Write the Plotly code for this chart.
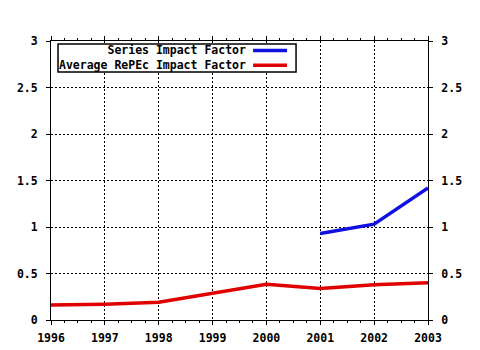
import plotly.graph_objects as go

# Yearly impact factors
years = [1996, 1997, 1998, 1999, 2000, 2001, 2002, 2003]
series_years = [2001, 2002, 2003]
series_impact = [0.93, 1.03, 1.42]
repec_average = [0.16, 0.17, 0.19, 0.29, 0.385, 0.34, 0.38, 0.40]

y_ticks = [0, 0.5, 1, 1.5, 2, 2.5, 3]
y_labels = ["0", "0.5", "1", "1.5", "2", "2.5", "3"]

series_names = ["Series Impact Factor", "Average RePEc Impact Factor"]
series_colors = ["#1010e0", "#e00000"]

FONT = dict(family="DejaVu Sans Mono", size=11.5, color="black", weight="bold")

fig = go.Figure()
fig.add_trace(go.Scatter(x=series_years, y=series_impact, mode="lines",
                         line=dict(color=series_colors[0], width=3.5),
                         name=series_names[0], showlegend=False))
fig.add_trace(go.Scatter(x=years, y=repec_average, mode="lines",
                         line=dict(color=series_colors[1], width=3.5),
                         name=series_names[1], showlegend=False))
# Transparent copy on the right-hand axis so its labels are drawn
fig.add_trace(go.Scatter(x=years, y=repec_average, yaxis="y2", mode="lines",
                         line=dict(color="rgba(0,0,0,0)", width=0),
                         hoverinfo="skip", showlegend=False))

axis_common = dict(showline=True, linecolor="black", linewidth=1,
                   ticks="outside", ticklen=4, tickcolor="black",
                   tickfont=FONT, zeroline=False, automargin=False)

fig.update_layout(
    width=480, height=350,
    margin=dict(l=51, r=52, t=41, b=30),
    paper_bgcolor="white", plot_bgcolor="white",
    xaxis=dict(axis_common, range=[1996, 2003], tickvals=years,
               ticktext=[str(y) for y in years], mirror="ticks",
               ticklabelstandoff=3,
               showgrid=True, gridcolor="black", griddash="2px,2px", gridwidth=1,
               minor=dict(ticks="outside", ticklen=2, dtick=0.25,
                          tickcolor="black", showgrid=False)),
    yaxis=dict(axis_common, range=[0, 3], tickvals=y_ticks, ticktext=y_labels,
               mirror="ticks", showgrid=True, gridcolor="black",
               ticklabelstandoff=6, griddash="2px,2px", gridwidth=1),
    yaxis2=dict(axis_common, range=[0, 3], tickvals=y_ticks,
                ticktext=y_labels, overlaying="y", side="right",
                ticklabelstandoff=6, anchor="x", showgrid=False),
)

# Legend box with right-aligned labels and line samples on the right
fig.add_shape(type="rect", xref="paper", yref="paper",
              x0=0.0186, x1=0.65, y0=0.889, y1=0.989,
              line=dict(color="black", width=1.5), fillcolor="white")
row_y = [0.966, 0.913]
fig.add_annotation(text="<br>".join(series_names), xref="paper", yref="paper",
                   x=0.522, y=sum(row_y) / 2, xanchor="right",
                   yanchor="middle", align="right", showarrow=False,
                   font=FONT)
for color, ry in zip(series_colors, row_y):
    fig.add_shape(type="line", xref="paper", yref="paper",
                  x0=0.536, x1=0.626, y0=ry, y1=ry,
                  line=dict(color=color, width=3.5))

fig.write_html("out.html")
